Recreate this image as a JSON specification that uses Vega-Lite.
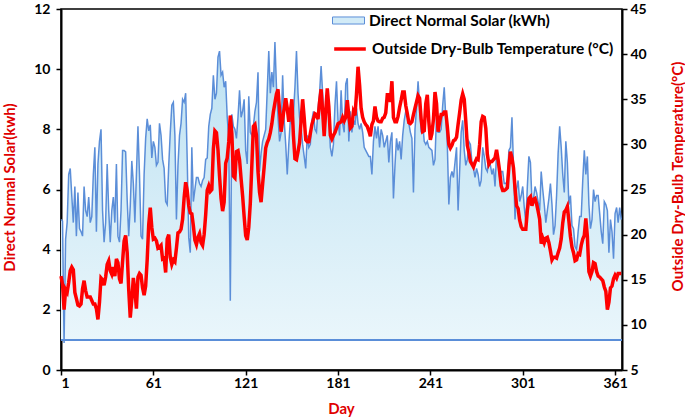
{
"$schema": "https://vega.github.io/schema/vega-lite/v6.json",
"width": 561, "height": 361,
"autosize": {"type": "none"},
"padding": {"left": 61, "top": 9, "right": 63, "bottom": 48},
"config": {
  "font": "Lato",
  "view": {"stroke": "black", "strokeWidth": 1.5},
  "axis": {"domainColor": "black", "domainWidth": 2, "tickColor": "black", "tickWidth": 1.5, "tickSize": 5, "labelFont": "Lato", "labelFontSize": 14, "labelFontWeight": "bold", "labelColor": "black", "titleFont": "Lato", "titleFontSize": 15, "titleFontWeight": "bold", "titleColor": "#E00000", "grid": false},
  "legend": {"labelFont": "Lato", "labelFontSize": 15.5, "labelFontWeight": "bold", "labelColor": "black", "labelLimit": 400}
},
"data": {"values": [
{"day":1,"solar":5.0,"temp":15.4},{"day":2,"solar":4.95,"temp":14.5},{"day":3,"solar":0.9,"temp":11.7},{"day":4,"solar":4.35,"temp":13.9},{"day":5,"solar":4.9,"temp":13.6},{"day":6,"solar":6.5,"temp":14.7},{"day":7,"solar":6.7,"temp":16.0},{"day":8,"solar":5.8,"temp":16.4},{"day":9,"solar":4.9,"temp":16.1},{"day":10,"solar":6.1,"temp":13.6},
{"day":11,"solar":4.45,"temp":12.9},{"day":12,"solar":5.9,"temp":12.2},{"day":13,"solar":4.7,"temp":12.1},{"day":14,"solar":4.6,"temp":12.3},{"day":15,"solar":4.45,"temp":14.0},{"day":16,"solar":6.1,"temp":14.9},{"day":17,"solar":5.3,"temp":13.8},{"day":18,"solar":5.1,"temp":13.1},{"day":19,"solar":5.75,"temp":13.1},{"day":20,"solar":4.9,"temp":13.1},
{"day":21,"solar":5.1,"temp":12.7},{"day":22,"solar":6.5,"temp":12.3},{"day":23,"solar":7.4,"temp":12.3},{"day":24,"solar":4.6,"temp":11.8},{"day":25,"solar":6.85,"temp":10.6},{"day":26,"solar":7.6,"temp":12.5},{"day":27,"solar":8.0,"temp":15.2},{"day":28,"solar":5.3,"temp":15.0},{"day":29,"solar":4.25,"temp":14.4},{"day":30,"solar":4.9,"temp":15.3},
{"day":31,"solar":6.85,"temp":16.7},{"day":32,"solar":5.3,"temp":17.1},{"day":33,"solar":4.25,"temp":16.0},{"day":34,"solar":5.3,"temp":15.6},{"day":35,"solar":5.75,"temp":16.4},{"day":36,"solar":4.9,"temp":15.4},{"day":37,"solar":6.85,"temp":17.3},{"day":38,"solar":4.45,"temp":16.9},{"day":39,"solar":4.25,"temp":15.1},{"day":40,"solar":5.3,"temp":14.6},
{"day":41,"solar":7.3,"temp":17.0},{"day":42,"solar":7.3,"temp":19.3},{"day":43,"solar":7.25,"temp":19.9},{"day":44,"solar":5.65,"temp":18.0},{"day":45,"solar":4.45,"temp":13.9},{"day":46,"solar":5.45,"temp":10.8},{"day":47,"solar":6.95,"temp":12.8},{"day":48,"solar":6.2,"temp":15.2},{"day":49,"solar":4.9,"temp":13.8},{"day":50,"solar":6.5,"temp":11.8},
{"day":51,"solar":8.1,"temp":15.3},{"day":52,"solar":6.5,"temp":15.7},{"day":53,"solar":4.45,"temp":15.5},{"day":54,"solar":4.35,"temp":14.1},{"day":55,"solar":6.5,"temp":13.3},{"day":56,"solar":7.7,"temp":14.3},{"day":57,"solar":8.35,"temp":17.2},{"day":58,"solar":7.95,"temp":21.1},{"day":59,"solar":8.15,"temp":23.0},{"day":60,"solar":7.05,"temp":20.8},
{"day":61,"solar":7.6,"temp":19.5},{"day":62,"solar":7.4,"temp":19.6},{"day":63,"solar":6.8,"temp":19.3},{"day":64,"solar":6.9,"temp":18.5},{"day":65,"solar":8.2,"temp":18.6},{"day":66,"solar":7.8,"temp":18.8},{"day":67,"solar":7.0,"temp":17.3},{"day":68,"solar":6.7,"temp":17.4},{"day":69,"solar":5.6,"temp":15.8},{"day":70,"solar":5.5,"temp":19.5},
{"day":71,"solar":6.8,"temp":20.0},{"day":72,"solar":7.9,"temp":17.5},{"day":73,"solar":8.8,"temp":16.7},{"day":74,"solar":8.9,"temp":17.2},{"day":75,"solar":7.8,"temp":17.0},{"day":76,"solar":5.0,"temp":18.5},{"day":77,"solar":6.8,"temp":20.2},{"day":78,"solar":7.8,"temp":20.3},{"day":79,"solar":8.2,"temp":20.6},{"day":80,"solar":9.0,"temp":21.7},
{"day":81,"solar":8.9,"temp":24.1},{"day":82,"solar":9.2,"temp":25.8},{"day":83,"solar":7.0,"temp":24.9},{"day":84,"solar":4.4,"temp":23.2},{"day":85,"solar":3.9,"temp":22.4},{"day":86,"solar":7.4,"temp":22.3},{"day":87,"solar":5.6,"temp":21.0},{"day":88,"solar":6.0,"temp":19.4},{"day":89,"solar":6.4,"temp":18.9},{"day":90,"solar":6.4,"temp":19.7},
{"day":91,"solar":6.2,"temp":20.1},{"day":92,"solar":6.1,"temp":19.1},{"day":93,"solar":6.3,"temp":18.8},{"day":94,"solar":6.4,"temp":20.0},{"day":95,"solar":7.0,"temp":22.2},{"day":96,"solar":7.05,"temp":24.9},{"day":97,"solar":8.1,"temp":25.4},{"day":98,"solar":8.5,"temp":24.8},{"day":99,"solar":8.7,"temp":25.0},{"day":100,"solar":9.8,"temp":29.5},
{"day":101,"solar":9.0,"temp":31.5},{"day":102,"solar":9.2,"temp":31.3},{"day":103,"solar":10.4,"temp":29.4},{"day":104,"solar":10.6,"temp":26.5},{"day":105,"solar":9.8,"temp":24.0},{"day":106,"solar":9.9,"temp":22.6},{"day":107,"solar":9.4,"temp":23.6},{"day":108,"solar":9.6,"temp":27.9},{"day":109,"solar":8.4,"temp":28.5},{"day":110,"solar":7.7,"temp":30.3},
{"day":111,"solar":2.3,"temp":33.2},{"day":112,"solar":8.5,"temp":31.2},{"day":113,"solar":8.1,"temp":26.5},{"day":114,"solar":8.0,"temp":26.3},{"day":115,"solar":7.7,"temp":29.2},{"day":116,"solar":8.4,"temp":29.3},{"day":117,"solar":9.3,"temp":28.3},{"day":118,"solar":8.4,"temp":26.2},{"day":119,"solar":8.6,"temp":24.3},{"day":120,"solar":9.0,"temp":22.0},
{"day":121,"solar":7.3,"temp":19.9},{"day":122,"solar":6.85,"temp":19.4},{"day":123,"solar":9.1,"temp":20.8},{"day":124,"solar":7.9,"temp":23.5},{"day":125,"solar":7.8,"temp":27.7},{"day":126,"solar":8.1,"temp":32.0},{"day":127,"solar":8.6,"temp":32.2},{"day":128,"solar":8.9,"temp":31.0},{"day":129,"solar":9.9,"temp":27.0},{"day":130,"solar":6.6,"temp":24.7},
{"day":131,"solar":7.2,"temp":23.6},{"day":132,"solar":7.6,"temp":25.6},{"day":133,"solar":7.8,"temp":27.5},{"day":134,"solar":8.0,"temp":29.6},{"day":135,"solar":9.3,"temp":30.2},{"day":136,"solar":10.6,"temp":30.6},{"day":137,"solar":9.2,"temp":31.3},{"day":138,"solar":9.9,"temp":32.3},{"day":139,"solar":9.4,"temp":33.6},{"day":140,"solar":10.9,"temp":34.6},
{"day":141,"solar":9.4,"temp":35.6},{"day":142,"solar":8.4,"temp":36.1},{"day":143,"solar":7.6,"temp":33.8},{"day":144,"solar":7.9,"temp":31.4},{"day":145,"solar":9.8,"temp":32.7},{"day":146,"solar":8.3,"temp":34.0},{"day":147,"solar":7.5,"temp":35.1},{"day":148,"solar":6.5,"temp":34.0},{"day":149,"solar":7.5,"temp":32.5},{"day":150,"solar":8.3,"temp":33.6},
{"day":151,"solar":8.2,"temp":35.0},{"day":152,"solar":8.5,"temp":31.0},{"day":153,"solar":9.4,"temp":28.4},{"day":154,"solar":10.6,"temp":28.3},{"day":155,"solar":9.2,"temp":29.2},{"day":156,"solar":8.4,"temp":30.2},{"day":157,"solar":8.1,"temp":32.6},{"day":158,"solar":7.5,"temp":35.0},{"day":159,"solar":7.1,"temp":33.0},{"day":160,"solar":6.7,"temp":30.5},
{"day":161,"solar":7.8,"temp":30.3},{"day":162,"solar":7.4,"temp":30.3},{"day":163,"solar":7.5,"temp":31.2},{"day":164,"solar":8.3,"temp":32.2},{"day":165,"solar":8.6,"temp":32.8},{"day":166,"solar":8.0,"temp":33.4},{"day":167,"solar":7.9,"temp":33.3},{"day":168,"solar":8.7,"temp":32.8},{"day":169,"solar":9.2,"temp":34.7},{"day":170,"solar":10.1,"temp":36.1},
{"day":171,"solar":9.2,"temp":33.6},{"day":172,"solar":8.3,"temp":30.9},{"day":173,"solar":8.5,"temp":33.7},{"day":174,"solar":9.2,"temp":36.2},{"day":175,"solar":8.5,"temp":34.2},{"day":176,"solar":7.4,"temp":31.0},{"day":177,"solar":7.1,"temp":30.6},{"day":178,"solar":7.5,"temp":31.0},{"day":179,"solar":8.8,"temp":31.3},{"day":180,"solar":9.6,"temp":31.8},
{"day":181,"solar":8.3,"temp":32.3},{"day":182,"solar":7.8,"temp":32.4},{"day":183,"solar":9.3,"temp":32.5},{"day":184,"solar":8.2,"temp":33.0},{"day":185,"solar":7.9,"temp":32.6},{"day":186,"solar":9.5,"temp":33.0},{"day":187,"solar":9.7,"temp":34.9},{"day":188,"solar":7.6,"temp":33.2},{"day":189,"solar":8.6,"temp":31.8},{"day":190,"solar":7.9,"temp":32.0},
{"day":191,"solar":8.3,"temp":33.6},{"day":192,"solar":8.15,"temp":33.2},{"day":193,"solar":8.7,"temp":35.6},{"day":194,"solar":8.2,"temp":38.6},{"day":195,"solar":8.0,"temp":36.6},{"day":196,"solar":8.2,"temp":34.0},{"day":197,"solar":7.9,"temp":33.0},{"day":198,"solar":7.4,"temp":32.5},{"day":199,"solar":7.3,"temp":32.2},{"day":200,"solar":7.2,"temp":32.0},
{"day":201,"solar":7.1,"temp":31.5},{"day":202,"solar":7.1,"temp":30.9},{"day":203,"solar":6.5,"temp":32.2},{"day":204,"solar":7.6,"temp":32.6},{"day":205,"solar":8.1,"temp":34.2},{"day":206,"solar":7.7,"temp":33.0},{"day":207,"solar":8.1,"temp":32.6},{"day":208,"solar":7.4,"temp":32.5},{"day":209,"solar":8.0,"temp":32.5},{"day":210,"solar":7.8,"temp":32.9},
{"day":211,"solar":7.4,"temp":33.0},{"day":212,"solar":7.6,"temp":33.5},{"day":213,"solar":7.8,"temp":35.5},{"day":214,"solar":6.9,"temp":35.5},{"day":215,"solar":7.6,"temp":34.7},{"day":216,"solar":7.9,"temp":37.0},{"day":217,"solar":5.7,"temp":33.0},{"day":218,"solar":6.8,"temp":32.5},{"day":219,"solar":7.7,"temp":32.5},{"day":220,"solar":7.3,"temp":33.1},
{"day":221,"solar":7.6,"temp":34.1},{"day":222,"solar":7.0,"temp":34.9},{"day":223,"solar":7.8,"temp":35.8},{"day":224,"solar":8.3,"temp":35.8},{"day":225,"solar":8.6,"temp":34.3},{"day":226,"solar":8.6,"temp":33.4},{"day":227,"solar":8.2,"temp":32.4},{"day":228,"solar":7.9,"temp":32.3},{"day":229,"solar":7.7,"temp":32.5},{"day":230,"solar":5.9,"temp":33.3},
{"day":231,"solar":8.0,"temp":34.0},{"day":232,"solar":8.7,"temp":34.7},{"day":233,"solar":9.6,"temp":35.4},{"day":234,"solar":8.8,"temp":35.1},{"day":235,"solar":7.9,"temp":32.8},{"day":236,"solar":8.2,"temp":31.4},{"day":237,"solar":7.6,"temp":31.5},{"day":238,"solar":7.5,"temp":34.5},{"day":239,"solar":7.6,"temp":35.5},{"day":240,"solar":7.4,"temp":32.5},
{"day":241,"solar":7.35,"temp":30.5},{"day":242,"solar":7.3,"temp":31.2},{"day":243,"solar":6.8,"temp":32.8},{"day":244,"solar":7.0,"temp":35.8},{"day":245,"solar":8.5,"temp":34.5},{"day":246,"solar":7.9,"temp":31.4},{"day":247,"solar":7.9,"temp":32.5},{"day":248,"solar":8.0,"temp":33.3},{"day":249,"solar":8.8,"temp":33.3},{"day":250,"solar":9.4,"temp":33.6},
{"day":251,"solar":8.4,"temp":33.6},{"day":252,"solar":7.5,"temp":32.0},{"day":253,"solar":5.5,"temp":30.0},{"day":254,"solar":6.4,"temp":29.6},{"day":255,"solar":6.6,"temp":29.9},{"day":256,"solar":6.4,"temp":30.4},{"day":257,"solar":6.9,"temp":30.5},{"day":258,"solar":7.4,"temp":30.8},{"day":259,"solar":5.3,"temp":32.2},{"day":260,"solar":6.6,"temp":33.5},
{"day":261,"solar":7.9,"temp":34.9},{"day":262,"solar":8.3,"temp":35.6},{"day":263,"solar":7.3,"temp":35.0},{"day":264,"solar":6.8,"temp":32.6},{"day":265,"solar":7.0,"temp":29.9},{"day":266,"solar":7.6,"temp":29.1},{"day":267,"solar":7.5,"temp":28.1},{"day":268,"solar":6.9,"temp":27.8},{"day":269,"solar":6.7,"temp":27.5},{"day":270,"solar":6.4,"temp":28.0},
{"day":271,"solar":6.7,"temp":28.4},{"day":272,"solar":6.5,"temp":28.3},{"day":273,"solar":6.1,"temp":30.0},{"day":274,"solar":6.3,"temp":32.5},{"day":275,"solar":7.4,"temp":33.1},{"day":276,"solar":7.1,"temp":33.0},{"day":277,"solar":6.7,"temp":31.8},{"day":278,"solar":6.6,"temp":28.9},{"day":279,"solar":7.0,"temp":27.8},{"day":280,"solar":6.8,"temp":28.1},
{"day":281,"solar":6.5,"temp":28.1},{"day":282,"solar":6.7,"temp":28.3},{"day":283,"solar":6.1,"temp":28.5},{"day":284,"solar":7.2,"temp":29.4},{"day":285,"solar":6.9,"temp":28.3},{"day":286,"solar":6.4,"temp":27.0},{"day":287,"solar":6.6,"temp":25.4},{"day":288,"solar":6.6,"temp":24.9},{"day":289,"solar":6.2,"temp":24.9},{"day":290,"solar":6.2,"temp":25.0},
{"day":291,"solar":6.3,"temp":25.2},{"day":292,"solar":7.3,"temp":27.5},{"day":293,"solar":7.4,"temp":29.2},{"day":294,"solar":8.4,"temp":28.5},{"day":295,"solar":6.8,"temp":27.4},{"day":296,"solar":5.0,"temp":25.1},{"day":297,"solar":6.0,"temp":23.2},{"day":298,"solar":6.3,"temp":22.9},{"day":299,"solar":5.6,"temp":21.6},{"day":300,"solar":5.8,"temp":20.9},
{"day":301,"solar":6.1,"temp":20.6},{"day":302,"solar":5.4,"temp":20.6},{"day":303,"solar":4.9,"temp":20.6},{"day":304,"solar":6.1,"temp":22.7},{"day":305,"solar":7.1,"temp":24.0},{"day":306,"solar":6.9,"temp":24.2},{"day":307,"solar":5.6,"temp":23.2},{"day":308,"solar":5.7,"temp":23.9},{"day":309,"solar":6.1,"temp":24.0},{"day":310,"solar":5.9,"temp":23.4},
{"day":311,"solar":5.6,"temp":22.6},{"day":312,"solar":5.3,"temp":21.7},{"day":313,"solar":6.6,"temp":19.0},{"day":314,"solar":6.0,"temp":19.6},{"day":315,"solar":5.5,"temp":19.1},{"day":316,"solar":4.9,"temp":19.6},{"day":317,"solar":5.3,"temp":19.7},{"day":318,"solar":5.7,"temp":19.1},{"day":319,"solar":6.2,"temp":18.2},{"day":320,"solar":5.5,"temp":17.2},
{"day":321,"solar":4.5,"temp":17.5},{"day":322,"solar":4.8,"temp":17.5},{"day":323,"solar":5.8,"temp":17.4},{"day":324,"solar":7.2,"temp":18.0},{"day":325,"solar":8.1,"temp":18.5},{"day":326,"solar":7.4,"temp":19.5},{"day":327,"solar":6.5,"temp":21.3},{"day":328,"solar":5.9,"temp":22.5},{"day":329,"solar":7.6,"temp":22.7},{"day":330,"solar":6.9,"temp":23.1},
{"day":331,"solar":5.5,"temp":21.5},{"day":332,"solar":5.8,"temp":19.8},{"day":333,"solar":4.8,"temp":18.6},{"day":334,"solar":4.7,"temp":18.0},{"day":335,"solar":4.1,"temp":17.1},{"day":336,"solar":4.0,"temp":17.2},{"day":337,"solar":4.6,"temp":17.9},{"day":338,"solar":5.1,"temp":17.8},{"day":339,"solar":5.1,"temp":18.8},{"day":340,"solar":6.3,"temp":19.5},
{"day":341,"solar":7.3,"temp":19.9},{"day":342,"solar":6.5,"temp":21.8},{"day":343,"solar":7.1,"temp":19.8},{"day":344,"solar":5.5,"temp":15.9},{"day":345,"solar":4.7,"temp":15.4},{"day":346,"solar":5.0,"temp":15.9},{"day":347,"solar":6.0,"temp":16.9},{"day":348,"solar":5.6,"temp":16.8},{"day":349,"solar":5.8,"temp":15.9},{"day":350,"solar":5.8,"temp":15.4},
{"day":351,"solar":5.2,"temp":15.3},{"day":352,"solar":4.6,"temp":15.1},{"day":353,"solar":4.2,"temp":14.9},{"day":354,"solar":5.6,"temp":14.2},{"day":355,"solar":5.5,"temp":13.7},{"day":356,"solar":5.3,"temp":11.7},{"day":357,"solar":3.9,"temp":12.5},{"day":358,"solar":5.0,"temp":14.1},{"day":359,"solar":4.6,"temp":14.3},{"day":360,"solar":3.7,"temp":15.1},
{"day":361,"solar":5.2,"temp":15.5},{"day":362,"solar":5.4,"temp":15.2},{"day":363,"solar":4.9,"temp":15.7},{"day":364,"solar":5.4,"temp":15.7},{"day":365,"solar":5.0,"temp":15.7}
]},
"layer": [
  {
    "layer": [
      {
        "mark": {"type": "area", "fill": {"gradient": "linear", "x1": 0, "y1": 0, "x2": 0, "y2": 1, "stops": [{"offset": 0, "color": "#BCE1F2"}, {"offset": 1, "color": "#EAF6FB"}]}},
        "encoding": {
          "x": {"field": "day", "type": "quantitative", "scale": {"domain": [1, 365.5], "nice": false, "zero": false},
                "axis": {"values": [1, 61, 121, 181, 241, 301, 361], "title": "Day", "labelPadding": 1, "titleY": 38, "titleBaseline": "middle", "titleX": 280}},
          "y": {"field": "solar", "type": "quantitative", "scale": {"domain": [0, 12], "nice": false},
                "axis": {"values": [0, 2, 4, 6, 8, 10, 12], "title": "Direct Normal Solar(kwh)", "labelPadding": 6, "titleAngle": 270, "titleX": -52, "titleY": 178, "titleAlign": "center", "titleBaseline": "middle"}},
          "y2": {"datum": 1}
        }
      },
      {
        "mark": {"type": "line", "stroke": "#5B8ED8", "strokeWidth": 1.5},
        "encoding": {"x": {"field": "day", "type": "quantitative"}, "y": {"field": "solar", "type": "quantitative"}}
      },
      {
        "mark": {"type": "rule", "stroke": "#5B8ED8", "strokeWidth": 1.2},
        "encoding": {"y": {"datum": 1}}
      },
      {
        "transform": [{"filter": "false"}],
        "mark": {"type": "square", "filled": true, "opacity": 1},
        "encoding": {
          "fill": {"datum": "Direct Normal Solar (kWh)", "scale": {"range": ["#D2EBF7"]},
                   "legend": {"orient": "none", "legendX": 271, "legendY": -5, "title": null, "symbolType": "M-1,-0.22H1V0.22H-1Z", "symbolSize": 1024, "symbolStrokeColor": "#5B8ED8", "symbolStrokeWidth": 1, "labelOffset": 4, "labelLimit": 400,
                              "encode": {"symbols": {"update": {"stroke": {"value": "#5B8ED8"}, "strokeWidth": {"value": 1}, "opacity": {"value": 1}}}}}}
        }
      }
    ]
  },
  {
    "mark": {"type": "line", "strokeWidth": 3.5},
    "encoding": {
      "x": {"field": "day", "type": "quantitative"},
      "y": {"field": "temp", "type": "quantitative", "scale": {"domain": [5, 45], "nice": false, "zero": false},
            "axis": {"orient": "right", "values": [5, 10, 15, 20, 25, 30, 35, 40, 45], "title": "Outside Dry-Bulb Temperature(°C)", "labelPadding": 3, "titleAngle": 270, "titleX": 55, "titleY": 167, "titleAlign": "center", "titleBaseline": "middle"}},
      "stroke": {"datum": "Outside Dry-Bulb Temperature (°C)", "scale": {"range": ["#FF0000"]},
                 "legend": {"orient": "none", "legendX": 271, "legendY": 22, "title": null, "symbolType": "stroke", "symbolSize": 1000, "symbolStrokeWidth": 3.5, "labelOffset": 4, "labelLimit": 400}}
    }
  }
],
"resolve": {"scale": {"y": "independent"}}
}
